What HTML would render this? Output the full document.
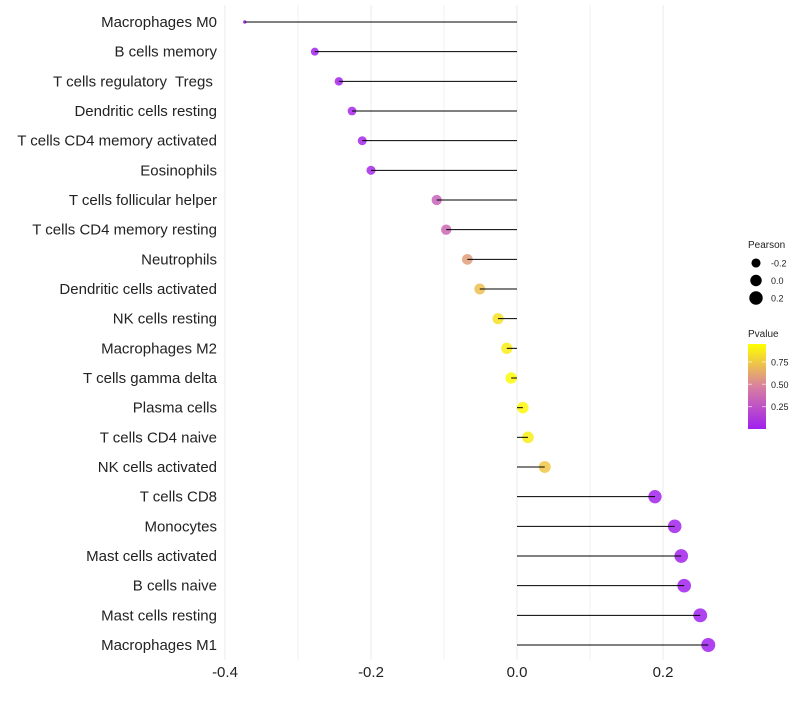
<!DOCTYPE html>
<html><head><meta charset="utf-8"><style>
body{margin:0;background:#fff;font-family:"Liberation Sans",sans-serif}
text{white-space:pre}
</style></head><body>
<svg id="chart" width="800" height="700" xmlns="http://www.w3.org/2000/svg"></svg>
<script>
const categories=["Macrophages M0","B cells memory","T cells regulatory  Tregs ","Dendritic cells resting","T cells CD4 memory activated","Eosinophils","T cells follicular helper","T cells CD4 memory resting","Neutrophils","Dendritic cells activated","NK cells resting","Macrophages M2","T cells gamma delta","Plasma cells","T cells CD4 naive","NK cells activated","T cells CD8","Monocytes","Mast cells activated","B cells naive","Mast cells resting","Macrophages M1"];
const pearson=[-0.373,-0.277,-0.244,-0.226,-0.212,-0.200,-0.110,-0.097,-0.068,-0.051,-0.026,-0.014,-0.008,0.008,0.015,0.038,0.189,0.216,0.225,0.229,0.251,0.262];
const pvalues=[0.01,0.02,0.03,0.04,0.04,0.05,0.35,0.38,0.62,0.75,0.88,0.93,0.98,0.97,0.93,0.78,0.02,0.02,0.02,0.01,0.01,0.01];
const xTicks=[-0.4,-0.2,0.0,0.2];
const xMinor=[-0.3,-0.1,0.1];
const sizeLegend=[-0.2,0.0,0.2];
const colorTicks=[0.25,0.5,0.75];
const NS="http://www.w3.org/2000/svg";
const svg=document.getElementById('chart');
const xS=v=>517+v*730;
const yS=i=>22+i*(623/21);
const rS=v=>{const a=v>=-0.277?16+(v+0.277)*61:16-(-0.277-v)*136;return Math.sqrt(Math.max(2.5,a));};
function lerp(a,b,t){return Math.round(a+(b-a)*t);}
function col(p){const s=[[0,[160,32,240]],[0.5,[216,128,160]],[1,[255,255,0]]];
 let k=p<0.5?0:1;const t=(p-s[k][0])/0.5;const a=s[k][1],b=s[k+1][1];
 return `rgb(${lerp(a[0],b[0],t)},${lerp(a[1],b[1],t)},${lerp(a[2],b[2],t)})`;}
function mk(tag,at,parent){const e=document.createElementNS(NS,tag);for(const k in at)e.setAttribute(k,at[k]);(parent||svg).appendChild(e);return e;}
xMinor.forEach(v=>{const l=mk('line',{x1:xS(v),x2:xS(v),y1:5,y2:660,stroke:'#f2f2f2','stroke-width':1});

});
xTicks.forEach(v=>{const l=mk('line',{x1:xS(v),x2:xS(v),y1:5,y2:660,stroke:'#ebebeb','stroke-width':1});


const t=mk('text',{x:xS(v),y:677,'text-anchor':'middle','font-size':15,fill:'#222'});t.textContent=v.toFixed(1);

});
categories.forEach((c,i)=>{const y=yS(i);
 const t=mk('text',{x:217,y:y+5,'text-anchor':'end','font-size':15,fill:'#222'});t.textContent=c;
 
 
 const d=mk('circle',{cx:xS(pearson[i]),cy:y,r:rS(pearson[i]),fill:col(pvalues[i]),'fill-opacity':0.85});
 
 
 const l=mk('line',{x1:xS(0),x2:xS(pearson[i]),y1:y,y2:y,stroke:'#000','stroke-width':1});
 
 
});
const st=mk('text',{x:748,y:248,'font-size':10,fill:'#222'});st.textContent='Pearson';


sizeLegend.forEach((v,i)=>{const y=263+i*17.5;
 const c=mk('circle',{cx:756,cy:y,r:rS(v),fill:'#000'});
 
 
 const t=mk('text',{x:771,y:y+3.5,'font-size':9,fill:'#222'});t.textContent=v.toFixed(1);
 
 });
const ct=mk('text',{x:748,y:337,'font-size':10,fill:'#222'});ct.textContent='Pvalue';


const defs=mk('defs',{});const g=mk('linearGradient',{id:'pg',x1:0,y1:1,x2:0,y2:0},defs);
[[0,0],[0.5,0.5],[1,1]].forEach(s=>mk('stop',{offset:s[0],'stop-color':col(s[1])},g));
const barTop=344,barBot=429,pmin=0.0,pmax=0.95;
const py=p=>barBot-(p-pmin)/(pmax-pmin)*(barBot-barTop);
const bar=mk('rect',{x:748,y:barTop,width:18,height:barBot-barTop,fill:'url(#pg)'});


colorTicks.forEach(p=>{const y=py(p);
 mk('line',{x1:748,x2:752,y1:y,y2:y,stroke:'#fff','stroke-opacity':0.6});
 mk('line',{x1:762,x2:766,y1:y,y2:y,stroke:'#fff','stroke-opacity':0.6});
 const t=mk('text',{x:771,y:y+3.5,'font-size':9,fill:'#222'});t.textContent=p.toFixed(2);
 
 });
</script>
</body></html>
